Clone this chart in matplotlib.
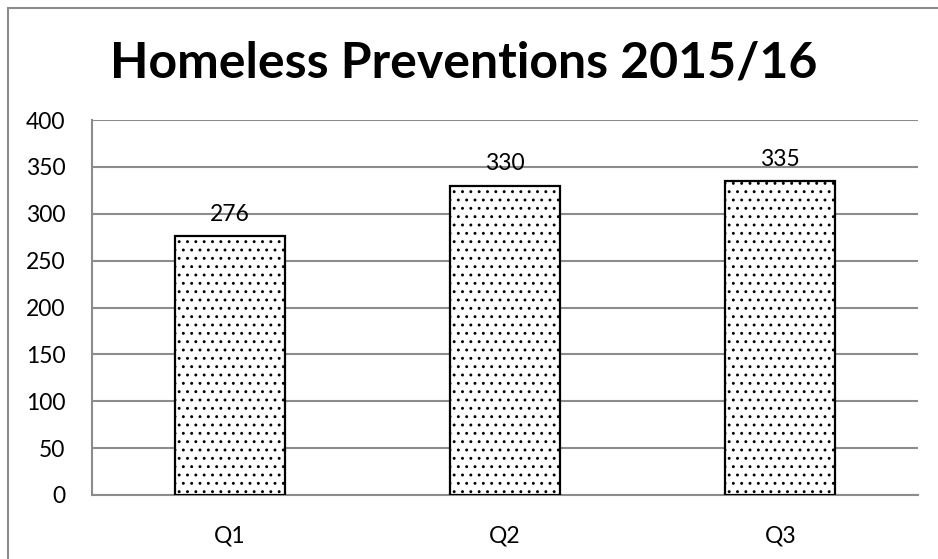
import matplotlib
matplotlib.use("Agg")
import matplotlib.pyplot as plt
from matplotlib.patches import Rectangle

quarters = ["Q1", "Q2", "Q3"]
preventions = [276, 330, 335]

plt.rcParams["font.family"] = ["Lato", "DejaVu Sans"]
plt.rcParams["hatch.linewidth"] = 0.9

fig = plt.figure(figsize=(9.38, 5.59), dpi=100)
ax = fig.add_axes([0.0981, 0.1145, 0.8806, 0.6708])

bars = ax.bar(quarters, preventions, width=0.4, color="white",
              edgecolor="black", linewidth=1.6, hatch="..", zorder=3)

for i, v in enumerate(preventions):
    ax.text(i, v + 12, str(v), ha="center", va="bottom", fontsize=16.5)

ax.set_ylim(0, 400)
ax.set_xlim(-0.5, 2.5)
ax.set_yticks(range(0, 401, 50))
ax.yaxis.grid(True, color="#8c8c8c", linewidth=1.5, zorder=0)
ax.tick_params(axis="y", length=0, labelsize=16.5, pad=19)
ax.tick_params(axis="x", length=0, labelsize=16.5, pad=22)
for s in ["top", "right"]:
    ax.spines[s].set_visible(False)
ax.spines["left"].set_color("#8c8c8c")
ax.spines["bottom"].set_color("#8c8c8c")
ax.spines["left"].set_linewidth(1.5)
ax.spines["bottom"].set_linewidth(1.5)

fig.text(0.494, 0.887, "Homeless Preventions 2015/16", ha="center",
         va="center", fontsize=36, fontweight="bold")

fig.patches.append(Rectangle((8 / 938, -0.1), 1.2, 1 - 8 / 559 + 0.1,
                             transform=fig.transFigure, fill=False,
                             edgecolor="#8c8c8c", linewidth=1.5))

fig.savefig("out.png", dpi=100)
